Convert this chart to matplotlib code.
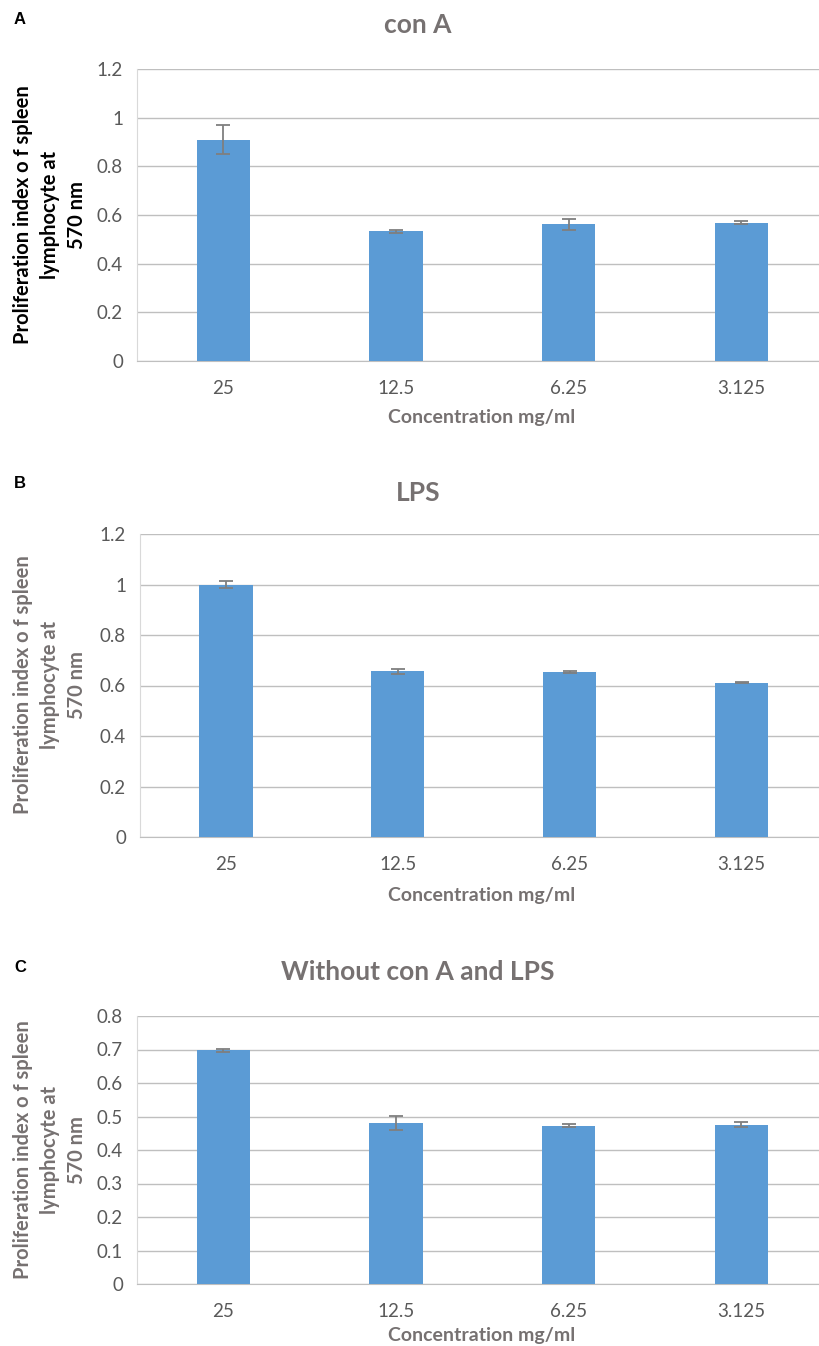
import matplotlib
matplotlib.use("Agg")
import matplotlib.pyplot as plt
import numpy as np

categories = ["25", "12.5", "6.25", "3.125"]
titles = ["con A", "LPS", "Without con A and LPS"]
panel_letters = ["A", "B", "C"]
vals_a = [0.91, 0.534, 0.561, 0.569]
err_a = [0.06, 0.006, 0.023, 0.007]
vals_b = [1.0, 0.657, 0.653, 0.611]
err_b = [0.013, 0.01, 0.005, 0.003]
vals_c = [0.698, 0.48, 0.473, 0.476]
err_c = [0.004, 0.021, 0.004, 0.007]
ymax = [1.2, 1.2, 0.8]
ystep = [0.2, 0.2, 0.1]
ylabel = "Proliferation index o f spleen\nlymphocyte at\n570 nm"
xlabel = "Concentration mg/ml"

W, H = 820, 1346
fig = plt.figure(figsize=(W / 100, H / 100), dpi=100)
FONT = ["Lato", "DejaVu Sans"]
GRAY = "#767171"
TICKGRAY = "#595959"
BAR = "#5b9bd5"

boxes = [(137, 69, 361), (140, 534, 837), (137, 1016, 1284)]
title_y = [25, 493, 972]
letter_y = [20, 483, 968]
xlabel_y = [418, 895, 1335]
ylabel_y = [215, 685, 1150]
ylabel_col = ["black", GRAY, GRAY]
data = [(vals_a, err_a), (vals_b, err_b), (vals_c, err_c)]

for i in range(3):
    l, t, b = boxes[i]
    ax = fig.add_axes([l / W, 1 - b / H, (W - 1 - l) / W, (b - t) / H])
    x = np.arange(len(categories))
    v, e = data[i]
    ax.bar(x, v, width=0.31, color=BAR, zorder=3)
    ax.errorbar(x, v, yerr=e, fmt="none", ecolor="#7f7f7f", elinewidth=1.3,
                capsize=5, capthick=1.3, zorder=4)
    ax.set_ylim(0, ymax[i])
    ticks = np.round(np.arange(0, ymax[i] + 1e-9, ystep[i]), 2)
    ax.set_yticks(ticks)
    ax.set_yticklabels(["%g" % t_ for t_ in ticks])
    ax.set_xlim(-0.5, 3.45)
    ax.set_xticks(x)
    ax.set_xticklabels(categories)
    ax.yaxis.grid(True, color="#bfbfbf", linewidth=1.0, zorder=0)
    ax.set_axisbelow(True)
    for s in ["top", "right"]:
        ax.spines[s].set_visible(False)
    ax.spines["left"].set_color("#d9d9d9")
    ax.spines["bottom"].set_color("#bfbfbf")
    ax.tick_params(axis="both", length=0, labelsize=13.5, labelcolor=TICKGRAY, pad=10)
    ax.tick_params(axis="x", pad=14)
    for lab in ax.get_xticklabels() + ax.get_yticklabels():
        lab.set_family(FONT)
    fig.text(50 / W, 1 - ylabel_y[i] / H, ylabel, rotation=90, ha="center", va="center",
             multialignment="center", fontsize=14.5, fontweight="bold",
             color=ylabel_col[i], family=FONT, linespacing=1.45)
    fig.text(482 / W, 1 - xlabel_y[i] / H, xlabel, ha="center", va="center",
             fontsize=14, fontweight="bold", color=GRAY, family=FONT)
    fig.text(418 / W, 1 - title_y[i] / H, titles[i], ha="center", va="center",
             fontsize=19, fontweight="bold", color=GRAY, family=FONT)
    fig.text(14 / W, 1 - letter_y[i] / H, panel_letters[i], ha="left", va="center",
             fontsize=12, fontweight="bold", color="black",
             family=["Liberation Sans", "DejaVu Sans"])

fig.savefig("out.png", dpi=100)
